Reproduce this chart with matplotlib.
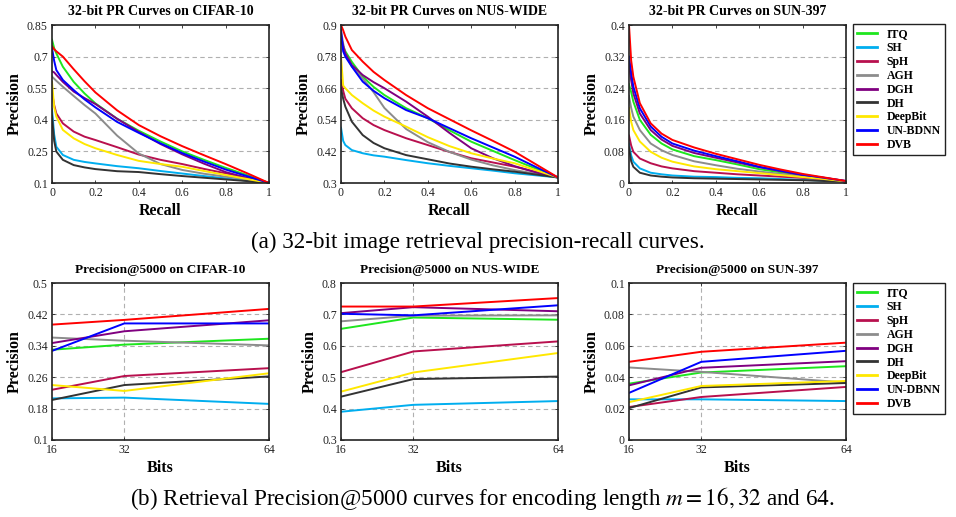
import matplotlib
matplotlib.use("Agg")
import matplotlib.pyplot as plt

plt.rcParams['font.family'] = ['Liberation Serif', 'DejaVu Serif']
plt.rcParams['mathtext.fontset'] = 'stix'

methods = ["ITQ", "SH", "SpH", "AGH", "DGH", "DH", "DeepBit", "UN-BDNN", "DVB"]
methods_b = ["ITQ", "SH", "SpH", "AGH", "DGH", "DH", "DeepBit", "UN-DBNN", "DVB"]
colors = ["#1ee61e", "#00aeef", "#b8104e", "#8c8c8c", "#800080", "#333333", "#ffe800", "#0000ff", "#ff0000"]

# ---------- PR curves (32 bits) ----------
recall = [0, 0.01, 0.02, 0.05, 0.1, 0.15, 0.2, 0.3, 0.4, 0.5, 0.6, 0.7, 0.8, 0.9, 1.0]

pr_cifar = {
    "ITQ":     [0.78, 0.74, 0.715, 0.652, 0.58, 0.525, 0.478, 0.405, 0.348, 0.297, 0.25, 0.21, 0.172, 0.137, 0.10],
    "SH":      [0.45, 0.33, 0.272, 0.233, 0.21, 0.20, 0.193, 0.18, 0.17, 0.157, 0.145, 0.133, 0.122, 0.111, 0.10],
    "SpH":     [0.53, 0.47, 0.43, 0.383, 0.344, 0.32, 0.304, 0.27, 0.235, 0.21, 0.19, 0.167, 0.146, 0.124, 0.10],
    "AGH":     [0.605, 0.595, 0.585, 0.557, 0.513, 0.47, 0.43, 0.325, 0.24, 0.19, 0.162, 0.144, 0.13, 0.116, 0.10],
    "DGH":     [0.63, 0.625, 0.613, 0.58, 0.534, 0.503, 0.475, 0.405, 0.342, 0.285, 0.236, 0.192, 0.152, 0.124, 0.10],
    "DH":      [0.42, 0.30, 0.249, 0.21, 0.185, 0.174, 0.166, 0.156, 0.152, 0.142, 0.133, 0.125, 0.117, 0.109, 0.10],
    "DeepBit": [0.58, 0.46, 0.415, 0.352, 0.312, 0.285, 0.265, 0.233, 0.205, 0.19, 0.177, 0.157, 0.138, 0.119, 0.10],
    "UN-BDNN": [0.74, 0.68, 0.636, 0.589, 0.541, 0.497, 0.459, 0.39, 0.338, 0.288, 0.242, 0.202, 0.164, 0.132, 0.10],
    "DVB":     [0.75, 0.735, 0.725, 0.70, 0.64, 0.583, 0.53, 0.445, 0.375, 0.322, 0.275, 0.232, 0.19, 0.146, 0.10],
}

pr_nus = {
    "ITQ":     [0.84, 0.82, 0.80, 0.76, 0.704, 0.665, 0.634, 0.584, 0.546, 0.50, 0.457, 0.422, 0.387, 0.354, 0.321],
    "SH":      [0.51, 0.46, 0.444, 0.425, 0.413, 0.405, 0.40, 0.387, 0.375, 0.365, 0.356, 0.347, 0.337, 0.329, 0.321],
    "SpH":     [0.69, 0.65, 0.62, 0.584, 0.546, 0.52, 0.501, 0.47, 0.444, 0.418, 0.394, 0.378, 0.362, 0.342, 0.321],
    "AGH":     [0.88, 0.83, 0.79, 0.742, 0.697, 0.645, 0.585, 0.505, 0.455, 0.418, 0.389, 0.367, 0.349, 0.335, 0.321],
    "DGH":     [0.86, 0.82, 0.792, 0.748, 0.71, 0.683, 0.66, 0.609, 0.552, 0.49, 0.432, 0.394, 0.364, 0.34, 0.321],
    "DH":      [0.66, 0.62, 0.59, 0.533, 0.482, 0.452, 0.432, 0.406, 0.39, 0.374, 0.362, 0.352, 0.343, 0.332, 0.321],
    "DeepBit": [0.78, 0.67, 0.66, 0.634, 0.603, 0.575, 0.552, 0.514, 0.474, 0.44, 0.413, 0.393, 0.375, 0.348, 0.321],
    "UN-BDNN": [0.88, 0.80, 0.78, 0.742, 0.685, 0.65, 0.622, 0.577, 0.546, 0.508, 0.47, 0.435, 0.40, 0.36, 0.321],
    "DVB":     [0.90, 0.88, 0.856, 0.805, 0.761, 0.722, 0.691, 0.634, 0.584, 0.542, 0.50, 0.46, 0.419, 0.37, 0.321],
}

pr_sun = {
    "ITQ":     [0.25, 0.23, 0.206, 0.16, 0.122, 0.10, 0.085, 0.068, 0.058, 0.047, 0.035, 0.027, 0.019, 0.012, 0.004],
    "SH":      [0.10, 0.07, 0.054, 0.037, 0.026, 0.022, 0.019, 0.016, 0.015, 0.013, 0.012, 0.010, 0.008, 0.006, 0.004],
    "SpH":     [0.12, 0.095, 0.079, 0.062, 0.05, 0.042, 0.037, 0.03, 0.026, 0.022, 0.019, 0.016, 0.013, 0.009, 0.004],
    "AGH":     [0.22, 0.19, 0.168, 0.134, 0.10, 0.083, 0.071, 0.055, 0.045, 0.036, 0.029, 0.023, 0.017, 0.011, 0.004],
    "DGH":     [0.30, 0.26, 0.227, 0.176, 0.134, 0.11, 0.094, 0.076, 0.064, 0.052, 0.04, 0.03, 0.02, 0.013, 0.005],
    "DH":      [0.09, 0.055, 0.041, 0.026, 0.019, 0.016, 0.014, 0.012, 0.011, 0.010, 0.009, 0.008, 0.007, 0.005, 0.004],
    "DeepBit": [0.19, 0.155, 0.134, 0.105, 0.079, 0.064, 0.054, 0.042, 0.035, 0.03, 0.025, 0.02, 0.015, 0.01, 0.004],
    "UN-BDNN": [0.32, 0.28, 0.244, 0.189, 0.143, 0.117, 0.10, 0.082, 0.068, 0.055, 0.041, 0.031, 0.021, 0.013, 0.005],
    "DVB":     [0.40, 0.31, 0.269, 0.202, 0.151, 0.125, 0.109, 0.09, 0.074, 0.06, 0.046, 0.034, 0.023, 0.014, 0.005],
}

# ---------- Precision@5000 ----------
bits = [16, 32, 64]
p5k_cifar = {
    "ITQ":     [0.330, 0.343, 0.358],
    "SH":      [0.206, 0.208, 0.192],
    "SpH":     [0.228, 0.263, 0.283],
    "AGH":     [0.361, 0.353, 0.341],
    "DGH":     [0.347, 0.377, 0.405],
    "DH":      [0.202, 0.240, 0.262],
    "DeepBit": [0.240, 0.225, 0.270],
    "UN-DBNN": [0.327, 0.397, 0.397],
    "DVB":     [0.394, 0.406, 0.434],
}
p5k_nus = {
    "ITQ":     [0.654, 0.690, 0.683],
    "SH":      [0.390, 0.412, 0.424],
    "SpH":     [0.516, 0.582, 0.614],
    "AGH":     [0.678, 0.696, 0.697],
    "DGH":     [0.704, 0.723, 0.710],
    "DH":      [0.438, 0.494, 0.502],
    "DeepBit": [0.454, 0.515, 0.577],
    "UN-DBNN": [0.702, 0.697, 0.729],
    "DVB":     [0.725, 0.725, 0.752],
}
p5k_sun = {
    "ITQ":     [0.0359, 0.0430, 0.0470],
    "SH":      [0.0259, 0.0259, 0.0248],
    "SpH":     [0.0210, 0.0274, 0.0338],
    "AGH":     [0.0462, 0.0434, 0.0366],
    "DGH":     [0.0348, 0.0460, 0.0502],
    "DH":      [0.0203, 0.0335, 0.0363],
    "DeepBit": [0.0241, 0.0344, 0.0376],
    "UN-DBNN": [0.0300, 0.0498, 0.0568],
    "DVB":     [0.0498, 0.0562, 0.0620],
}

top_titles = ["32-bit PR Curves on CIFAR-10", "32-bit PR Curves on NUS-WIDE", "32-bit PR Curves on SUN-397"]
bot_titles = ["Precision@5000 on CIFAR-10", "Precision@5000 on NUS-WIDE", "Precision@5000 on SUN-397"]
top_yticks = [[0.1, 0.25, 0.4, 0.55, 0.7, 0.85],
              [0.3, 0.42, 0.54, 0.66, 0.78, 0.9],
              [0, 0.08, 0.16, 0.24, 0.32, 0.4]]
top_ylabels = [["0.1", "0.25", "0.4", "0.55", "0.7", "0.85"],
               ["0.3", "0.42", "0.54", "0.66", "0.78", "0.9"],
               ["0", "0.08", "0.16", "0.24", "0.32", "0.4"]]
bot_yticks = [[0.1, 0.18, 0.26, 0.34, 0.42, 0.5],
              [0.3, 0.4, 0.5, 0.6, 0.7, 0.8],
              [0, 0.02, 0.04, 0.06, 0.08, 0.1]]
bot_ylabels = [["0.1", "0.18", "0.26", "0.34", "0.42", "0.5"],
               ["0.3", "0.4", "0.5", "0.6", "0.7", "0.8"],
               ["0", "0.02", "0.04", "0.06", "0.08", "0.1"]]
xticks_pr = [0, 0.2, 0.4, 0.6, 0.8, 1.0]
xlabels_pr = ["0", "0.2", "0.4", "0.6", "0.8", "1"]

W, H = 956, 517
fig = plt.figure(figsize=(W / 100, H / 100), dpi=100)

lefts = [52, 341, 629]
widths = [217, 217, 217]

def px_axes(x0, y0, x1, y1):
    return fig.add_axes([x0 / W, 1 - y1 / H, (x1 - x0) / W, (y1 - y0) / H])

def style(ax, yt, yl, title):
    ax.set_yticks(yt)
    ax.set_yticklabels(yl)
    ax.set_ylim(yt[0], yt[-1])
    for y in yt[1:-1]:
        ax.axhline(y, color="#b0b0b0", lw=0.8, ls=(0, (4, 3)), zorder=0)
    for s in ax.spines.values():
        s.set_linewidth(1.2)
        s.set_color("#222222")
    ax.tick_params(direction="in", length=2.5, width=0.6, labelsize=8.5, colors="#222222",
                   pad=3, top=True, right=True)
    ax.set_title(title, fontsize=10, fontweight="bold", pad=7)
    ax.set_ylabel("Precision", fontsize=11.5, fontweight="bold", labelpad=3)

pr_data = [pr_cifar, pr_nus, pr_sun]
top_axes = []
for i in range(3):
    ax = px_axes(lefts[i], 25, lefts[i] + widths[i], 183)
    for m, c in zip(methods, colors):
        ax.plot(recall, pr_data[i][m], color=c, lw=1.4, label=m, solid_joinstyle="round")
    ax.set_xlim(0, 1)
    ax.set_xticks(xticks_pr)
    ax.set_xticklabels(xlabels_pr)
    style(ax, top_yticks[i], top_ylabels[i], top_titles[i])
    ax.set_xlabel("Recall", fontsize=11.5, fontweight="bold", labelpad=3)
    top_axes.append(ax)

p5k_data = [p5k_cifar, p5k_nus, p5k_sun]
bot_axes = []
for i in range(3):
    ax = px_axes(lefts[i], 283, lefts[i] + widths[i], 440)
    for m, c in zip(methods_b, colors):
        ax.plot(bits, p5k_data[i][m], color=c, lw=1.4, label=m)
    ax.set_xlim(16, 64)
    ax.set_xticks(bits)
    ax.set_xticklabels([str(b) for b in bits])
    ax.axvline(32, color="#b0b0b0", lw=0.8, ls=(0, (4, 3)), zorder=0)
    style(ax, bot_yticks[i], bot_ylabels[i], bot_titles[i])
    ax.title.set_fontsize(9.5)
    ax.set_xlabel("Bits", fontsize=11.5, fontweight="bold", labelpad=3)
    bot_axes.append(ax)

def add_legend(ax, y_top_px):
    leg = ax.legend(loc="upper left", bbox_to_anchor=(853 / W, 1 - y_top_px / H),
                    bbox_transform=fig.transFigure, borderaxespad=0,
                    prop={"weight": "bold", "size": 8.5}, handlelength=1.7,
                    handletextpad=0.8, labelspacing=0.16, borderpad=0.35,
                    fancybox=False, framealpha=1, edgecolor="#222222")
    leg.get_frame().set_linewidth(1.0)
    for l in leg.get_lines():
        l.set_linewidth(2.0)

add_legend(top_axes[2], 24)
add_legend(bot_axes[2], 283)

fig.text(0.5, 1 - 242 / H, "(a) 32-bit image retrieval precision-recall curves.",
         ha="center", va="center", fontsize=16.7)
fig.text(0.504, 1 - 498 / H,
         "(b) Retrieval Precision@5000 curves for encoding length $m = 16, 32$ and 64.",
         ha="center", va="center", fontsize=16.7)

fig.savefig("out.png", dpi=100)
